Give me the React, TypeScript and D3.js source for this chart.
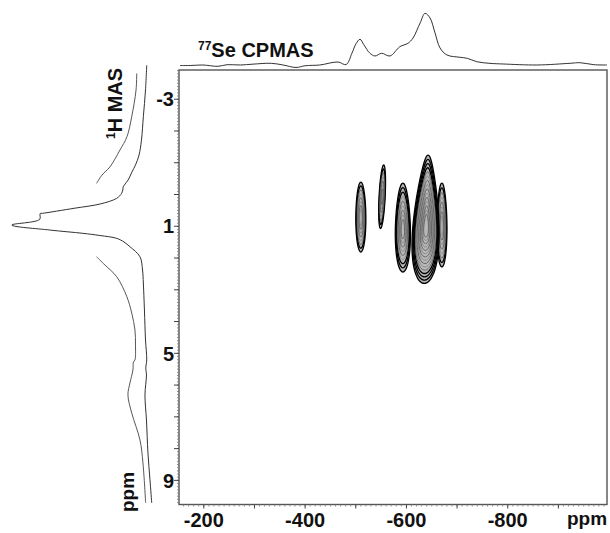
import React from "react";
import * as d3 from "d3";

// ---- 77Se CPMAS projection (top) : ppm, intensity (0-100)
const sePpm = [-153, -173, -198, -228, -246, -272, -297, -333, -356, -382, -400, -429, -465, -481, -492.6, -500.5, -508.4, -516, -528, -538, -551, -567.6, -587, -603, -613, -627, -636.7, -646.6, -656.5, -666.4, -680, -706, -720, -739, -765, -791, -858, -923, -943, -970, -996];
const seInt = [1.0, 0.9, 1.9, -0.6, 2.5, 1.9, 3.5, 5.1, 2.0, -2.8, 0.5, 1.9, 7.5, 2.8, 24.5, 42, 50.4, 40, 24.0, 18.9, 24.0, 18.9, 36.4, 42.8, 52.8, 81.1, 99.4, 90.6, 62.3, 34.0, 20.8, 16.4, 14.5, 8.1, 5.0, 3.8, 1.9, 5.1, 6.2, 2.5, 1.9];

// ---- 1H MAS projection (left) : ppm, intensity (0-100)
const hPpm = [-4.07, -3.29, -2.45, -1.71, -1.24, -0.93, -0.71, -0.46, -0.30, -0.24, -0.17, -0.04, 0.12, 0.30, 0.43, 0.593, 0.60, 0.782, 0.961, 1.118, 1.222, 1.291, 1.38, 1.496, 1.644, 1.958, 2.377, 2.786, 3.636, 4.58, 5.21, 5.46, 5.68, 6.31, 7.10, 8.135, 8.985, 9.709];
const hInt = [0.2, 1.1, 2.7, 4.1, 5.9, 8.5, 11.1, 13.9, 16.7, 17.6, 17.8, 18.7, 22.4, 34.8, 53.3, 77.3, 79.0, 79.3, 100, 71.9, 47.4, 34.8, 22.4, 17.0, 12.6, 5.2, 3.3, 2.7, 1.9, 1.1, 0.2, 0.9, 0.4, 1.5, 0.4, -0.7, -2.2, -3.5];

// vertically expanded trace (two pieces)
const hMagUpperPpm = [-3.81, -3.29, -2.45, -1.82, -1.40, -0.87, -0.61, -0.35];
const hMagUpperInt = [7.6, 8.1, 11.3, 14.8, 20.0, 27.4, 33.3, 37.3];
const hMagLowerPpm = [1.958, 2.22, 2.588, 3.217, 3.73, 4.265, 4.737, 5.21, 5.272, 5.524, 5.933, 6.31, 6.877, 7.726, 8.45, 9.709];
const hMagLowerInt = [37.3, 31.1, 22.4, 14.9, 11.3, 8.9, 8.5, 8.9, 10.0, 10.4, 12.6, 14.1, 11.3, 5.2, 3.0, 1.0];

// ---- 2D correlation peaks
const peakSe = [-510, -552, -593, -670, -639];
const peakH = [0.71, 0.07, 1.04, 0.96, 0.78];
const peakHalfSe = [9.9, 6, 14.8, 10, 24.9];
const peakHalfH = [1.1, 1.0, 1.4, 1.32, 2.02];
const peakSkew = [0.05, 0, 0.15, 0.1, 0.4];
const peakTilt = [0, -0.05, 0, 0, -0.03];
const peakLevels = [8, 7, 9, 8, 15];

// ---- axes
const seTicks = [-200, -400, -600, -800];
const hTicks = [-3, 1, 5, 9];

const FONT = "'Liberation Sans', Arial, Helvetica, sans-serif";

export default function App() {
  const W = 610, H = 533;
  const x = d3.scaleLinear().domain([-151, -996]).range([179, 607]);
  const y = d3.scaleLinear().domain([-3.92, 9.76]).range([70, 504.5]);
  const topI = d3.scaleLinear().domain([0, 100]).range([66, 13]);
  const leftI = d3.scaleLinear().domain([0, 100]).range([147, 11.7]);

  const topLine = d3.line<number>()
    .x((_, i) => x(sePpm[i]))
    .y((_, i) => topI(seInt[i]))
    .curve(d3.curveCatmullRom.alpha(0.5));

  const leftLine = (ppm: number[], inten: number[]) =>
    d3.line<number>()
      .x((_, i) => leftI(inten[i]))
      .y((_, i) => y(ppm[i]))
      .curve(d3.curveCatmullRom.alpha(0.5))(ppm);

  const [x0, x1] = x.range();
  const [y0, y1] = y.range();

  const majorSe = d3.range(-200, -996, -100);
  const minorSe = d3.range(-160, -996, -10);
  const majorH = d3.range(-3, 9.8, 1);
  const minorH = d3.range(-3.9, 9.76, 0.1);

  const contourPath = (k: number, s: number) => {
    const cxp = x(peakSe[k]);
    const shift = (1 - s) * 0.3 * (y(peakHalfH[k]) - y(0)) * peakSkew[k];
    const cyp = y(peakH[k]) + shift;
    const rx = Math.abs(x(peakSe[k] - peakHalfSe[k]) - x(peakSe[k])) * s;
    const ry = (y(peakHalfH[k]) - y(0)) * s;
    const pts: [number, number][] = d3.range(0, 48).map((j) => {
      const t = (j / 48) * Math.PI * 2;
      const u = Math.sin(t);
      const dy = ry * u;
      const dx = rx * Math.cos(t) * (1 + peakSkew[k] * u) + peakTilt[k] * dy;
      return [cxp + dx, cyp + dy];
    });
    return d3.line().curve(d3.curveCardinalClosed)(pts) as string;
  };

  const order = [0, 1, 2, 3, 4];

  return (
    <svg width={W} height={H} style={{ position: "absolute", left: 0, top: 0, background: "#fff" }}>
      {/* contours */}
      {order.map((k) => {
        const n = peakLevels[k];
        const lv = d3.range(n).map((i) => 1 - (i / n) * 0.88);
        return (
          <g key={k}>
            <path d={contourPath(k, 1)} fill="#b8b8b8" stroke="none" />
            {lv.map((s, i) => (
              <path
                key={i}
                d={contourPath(k, s)}
                fill="none"
                stroke={s > 0.78 ? "#000" : i % 2 ? "#777" : "#444"}
                strokeWidth={s > 0.78 ? 1.3 : 0.7}
              />
            ))}
          </g>
        );
      })}

      {/* frame */}
      <rect x={x0} y={y0} width={x1 - x0} height={y1 - y0} fill="none" stroke="#555" strokeWidth={1.4} />

      {/* bottom ticks */}
      {minorSe.map((v) => (
        <line key={"ms" + v} x1={x(v)} x2={x(v)} y1={y1} y2={y1 + 2} stroke="#777" strokeWidth={0.8} />
      ))}
      {majorSe.map((v) => (
        <line key={"Ms" + v} x1={x(v)} x2={x(v)} y1={y1} y2={y1 + 4} stroke="#444" strokeWidth={1} />
      ))}
      {seTicks.map((v) => (
        <text key={"ls" + v} x={x(v)} y={527} textAnchor="middle" fontFamily={FONT} fontWeight="bold" fontSize={20} fill="#111">
          {v}
        </text>
      ))}
      <text x={567} y={525} fontFamily={FONT} fontWeight="bold" fontSize={19} fill="#111">ppm</text>

      {/* left ticks */}
      {minorH.map((v, i) => (
        <line key={"mh" + i} x1={x0 - 2} x2={x0} y1={y(v)} y2={y(v)} stroke="#777" strokeWidth={0.8} />
      ))}
      {majorH.map((v) => (
        <line key={"Mh" + v} x1={x0 - 5} x2={x0} y1={y(v)} y2={y(v)} stroke="#444" strokeWidth={1} />
      ))}
      {hTicks.map((v) => (
        <text key={"lh" + v} x={174} y={y(v)} dy="0.36em" textAnchor="end" fontFamily={FONT} fontWeight="bold" fontSize={20} fill="#111">
          {v}
        </text>
      ))}
      <text transform="translate(134,512) rotate(-90)" fontFamily={FONT} fontWeight="bold" fontSize={19} fill="#111">ppm</text>

      {/* top projection */}
      <path d={topLine(sePpm) as string} fill="none" stroke="#333" strokeWidth={1} />
      <text x={198} y={57} fontFamily={FONT} fontWeight="bold" fontSize={20} fill="#111">
        <tspan fontSize={12} dy={-7}>77</tspan>
        <tspan dy={7}>Se CPMAS</tspan>
      </text>

      {/* left projection */}
      <path d={leftLine(hPpm, hInt) as string} fill="none" stroke="#333" strokeWidth={1} />
      <path d={leftLine(hMagUpperPpm, hMagUpperInt) as string} fill="none" stroke="#444" strokeWidth={0.9} />
      <path d={leftLine(hMagLowerPpm, hMagLowerInt) as string} fill="none" stroke="#444" strokeWidth={0.9} />
      <text transform="translate(122,139) rotate(-90)" fontFamily={FONT} fontWeight="bold" fontSize={20} fill="#111">
        <tspan fontSize={12} dy={-7}>1</tspan>
        <tspan dy={7}>H MAS</tspan>
      </text>
    </svg>
  );
}
